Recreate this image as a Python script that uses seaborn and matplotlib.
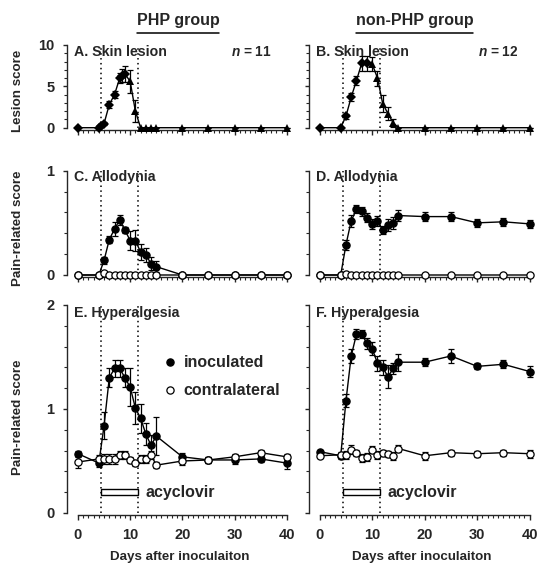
import numpy as np
import pandas as pd
import matplotlib
matplotlib.use("Agg")
import matplotlib.pyplot as plt
from matplotlib.lines import Line2D
from matplotlib.patches import Rectangle
import seaborn as sns

# ---------------- data ----------------
days = [0, 4, 5, 6, 7, 8, 9, 10, 11, 12, 13, 14, 15, 20, 25, 30, 35, 40]

# Skin lesion
php_lesion_days = [0, 4, 4.5, 5, 6, 7, 8, 8.5, 9, 10, 11, 12, 13, 14, 15, 20, 25, 30, 35, 40]
php_lesion = [0, 0, 0.2, 0.5, 2.8, 4.0, 6.0, 6.3, 6.5, 5.6, 2.0, 0, 0, 0, 0, 0, 0, 0, 0, 0]
php_lesion_err = [0, 0, 0, 0.2, 0.4, 0.4, 0.6, 0.8, 1.0, 1.4, 1.3, 0, 0, 0, 0, 0, 0, 0, 0, 0]
nonphp_lesion_days = [0, 4, 5, 6, 7, 8, 9, 10, 11, 12, 13, 14, 15, 20, 25, 30, 35, 40]
nonphp_lesion = [0, 0, 1.4, 3.7, 5.7, 7.8, 7.8, 7.7, 6.0, 2.9, 1.7, 0.6, 0, 0, 0, 0, 0, 0]
nonphp_lesion_err = [0, 0, 0.3, 0.5, 0.5, 0.9, 0.9, 0.9, 0.9, 1.0, 0.8, 0.5, 0, 0, 0, 0, 0, 0]
lesion_last_active_day = 9

# Allodynia
php_allo_inoc = [0, 0, 0.14, 0.34, 0.44, 0.53, 0.43, 0.33, 0.33, 0.22, 0.19, 0.11, 0.08, 0, 0, 0, 0, 0]
php_allo_inoc_err = [0, 0, 0.03, 0.03, 0.07, 0.05, 0.03, 0.09, 0.10, 0.08, 0.07, 0.06, 0.05, 0, 0, 0, 0, 0]
php_allo_contra = [0, 0, 0.02, 0, 0, 0, 0, 0, 0, 0, 0, 0, 0, 0, 0, 0, 0, 0]
php_allo_contra_err = [0] * 18
nonphp_allo_inoc = [0, 0, 0.29, 0.52, 0.63, 0.61, 0.55, 0.49, 0.52, 0.43, 0.48, 0.50, 0.57, 0.56, 0.56, 0.50, 0.51, 0.49]
nonphp_allo_inoc_err = [0, 0, 0.05, 0.06, 0.04, 0.04, 0.04, 0.05, 0.05, 0.04, 0.06, 0.06, 0.05, 0.04, 0.04, 0.04, 0.04, 0.04]
nonphp_allo_contra = [0, 0, 0.01, 0, 0, 0, 0, 0, 0, 0, 0, 0, 0, 0, 0, 0, 0, 0]
nonphp_allo_contra_err = [0] * 18

# Hyperalgesia
php_hyp_inoc = [0.57, 0.48, 0.84, 1.30, 1.39, 1.39, 1.30, 1.21, 1.01, 0.91, 0.76, 0.65, 0.74, 0.54, 0.51, 0.51, 0.52, 0.48]
php_hyp_inoc_err = [0.03, 0.04, 0.13, 0.09, 0.08, 0.08, 0.09, 0.18, 0.15, 0.14, 0.11, 0.10, 0.18, 0.04, 0.03, 0.04, 0.03, 0.06]
php_hyp_contra = [0.49, 0.52, 0.52, 0.52, 0.52, 0.56, 0.56, 0.51, 0.48, 0.52, 0.52, 0.56, 0.46, 0.50, 0.51, 0.54, 0.58, 0.54]
php_hyp_contra_err = [0.06, 0.04, 0.05, 0.05, 0.05, 0.04, 0.04, 0.03, 0.03, 0.04, 0.04, 0.04, 0.03, 0.04, 0.03, 0.03, 0.03, 0.03]
nonphp_hyp_inoc = [0.59, 0.55, 1.08, 1.51, 1.72, 1.72, 1.63, 1.58, 1.44, 1.40, 1.31, 1.39, 1.45, 1.45, 1.51, 1.41, 1.43, 1.36]
nonphp_hyp_inoc_err = [0.02, 0.03, 0.06, 0.07, 0.05, 0.04, 0.05, 0.06, 0.07, 0.07, 0.11, 0.05, 0.08, 0.04, 0.07, 0.03, 0.04, 0.05]
nonphp_hyp_contra = [0.55, 0.56, 0.56, 0.61, 0.58, 0.53, 0.54, 0.61, 0.56, 0.58, 0.57, 0.55, 0.62, 0.55, 0.58, 0.57, 0.58, 0.57]
nonphp_hyp_contra_err = [0.02, 0.03, 0.04, 0.04, 0.03, 0.04, 0.04, 0.03, 0.04, 0.03, 0.03, 0.04, 0.03, 0.04, 0.03, 0.03, 0.03, 0.04]

acyclovir_start, acyclovir_end = 4.5, 11.5
acyclovir_level = (0.17, 0.23)

group_titles = ["PHP group", "non-PHP group"]
n_labels = ["11", "12"]
panel_letters = [["A. Skin lesion", "B. Skin lesion"],
                 ["C. Allodynia", "D. Allodynia"],
                 ["E. Hyperalgesia", "F. Hyperalgesia"]]
ylabels = ["Lesion score", "Pain-related score", "Pain-related score"]
legend_labels = ["inoculated", "contralateral"]
xlabel = "Days after inoculaiton"

# ---------------- style ----------------
sns.set_style("ticks")
plt.rcParams["font.family"] = ["Liberation Sans", "DejaVu Sans"]
plt.rcParams["font.weight"] = "bold"
plt.rcParams["mathtext.fontset"] = "custom"
plt.rcParams["mathtext.it"] = "Liberation Sans:bold:italic"
plt.rcParams["mathtext.rm"] = "Liberation Sans:bold"
plt.rcParams["axes.linewidth"] = 1.0

W, H = 538, 565
fig = plt.figure(figsize=(W / 100, H / 100), dpi=100)

col_left = [67 / W, 309 / W]
col_width = [225 / W, 226 / W]
col_xmin = [-2.1, -2.04]
rows = [(1 - 127.7 / H, 82.7 / H, (0, 10), [0, 5, 10], 1),
        (1 - 275 / H, 104.3 / H, (0, 1), [0, 1], 0.2),
        (1 - 513 / H, 208 / H, (0, 2), [0, 1, 2], 0.2)]

TICK_FS = 10.5
LBL_FS = 9.6
ms_circle = 5.2


def style_axes(ax, ylim, yticks, yminor, show_xlabels, show_ylabels, xmin):
    ax.set_xlim(xmin, 41)
    ax.set_ylim(*ylim)
    for s in ["top", "right"]:
        ax.spines[s].set_visible(False)
    ax.spines["bottom"].set_position(("outward", 1.5))
    ax.spines["bottom"].set_bounds(0, 40)
    ax.spines["left"].set_bounds(*ylim)
    ax.set_xticks([0, 10, 20, 30, 40])
    ax.set_xticks(np.arange(0, 41, 1), minor=True)
    ax.set_yticks(yticks)
    ax.set_yticks(np.arange(ylim[0], ylim[1] + 1e-9, yminor), minor=True)
    ax.tick_params(axis="x", which="major", length=3.5, width=1, direction="out", pad=6,
                   labelsize=TICK_FS, labelbottom=show_xlabels)
    ax.tick_params(axis="x", which="minor", length=1.8, width=0.8, direction="out")
    ax.tick_params(axis="y", which="major", length=3, width=1, direction="out", pad=6,
                   labelsize=TICK_FS, labelleft=show_ylabels)
    ax.tick_params(axis="y", which="minor", length=2, width=0.8, direction="out")
    for lab in ax.get_xticklabels() + ax.get_yticklabels():
        lab.set_fontweight("bold")
    ax.set_xlabel("")
    ax.set_ylabel("")
    ax.grid(False)
    ax.set_facecolor("none")


def draw_pair(ax, inoc, inoc_err, contra, contra_err):
    df = pd.DataFrame({"day": days, "inoc": inoc, "contra": contra})
    ax.errorbar(days, inoc, yerr=inoc_err, fmt="none", ecolor="black", elinewidth=0.9,
                capsize=2.2, capthick=0.9, zorder=3, clip_on=False)
    sns.lineplot(data=df, x="day", y="inoc", ax=ax, color="black", lw=1, marker="o",
                 markersize=ms_circle, markerfacecolor="black", markeredgecolor="black",
                 markeredgewidth=0.9, zorder=4, clip_on=False)
    ax.errorbar(days, contra, yerr=contra_err, fmt="none", ecolor="black", elinewidth=0.9,
                capsize=2.2, capthick=0.9, zorder=5, clip_on=False)
    sns.lineplot(data=df, x="day", y="contra", ax=ax, color="black", lw=1, marker="o",
                 markersize=ms_circle, markerfacecolor="white", markeredgecolor="black",
                 markeredgewidth=0.9, zorder=6, clip_on=False)


def draw_lesion(ax, ldays, vals, errs):
    df = pd.DataFrame({"day": ldays, "score": vals})
    ax.errorbar(ldays, vals, yerr=errs, fmt="none", ecolor="black", elinewidth=0.9,
                capsize=2.2, capthick=0.9, zorder=3, clip_on=False)
    sns.lineplot(data=df, x="day", y="score", ax=ax, color="black", lw=1, zorder=4, clip_on=False)
    act = df[df["day"] <= lesion_last_active_day]
    heal = df[df["day"] > lesion_last_active_day]
    sns.lineplot(data=act, x="day", y="score", ax=ax, color="black", lw=0, marker="D",
                 markersize=5, markeredgewidth=0, zorder=5, clip_on=False)
    sns.lineplot(data=heal, x="day", y="score", ax=ax, color="black", lw=0, marker="^",
                 markersize=5.5, markeredgewidth=0, zorder=5, clip_on=False)


axes = [[None, None] for _ in range(3)]
for r, (bottom, height, ylim, yticks, yminor) in enumerate(rows):
    for c in range(2):
        ax = fig.add_axes([col_left[c], bottom, col_width[c], height])
        axes[r][c] = ax

lesion_sets = [(php_lesion_days, php_lesion, php_lesion_err),
               (nonphp_lesion_days, nonphp_lesion, nonphp_lesion_err)]
allo_sets = [(php_allo_inoc, php_allo_inoc_err, php_allo_contra, php_allo_contra_err),
             (nonphp_allo_inoc, nonphp_allo_inoc_err, nonphp_allo_contra, nonphp_allo_contra_err)]
hyp_sets = [(php_hyp_inoc, php_hyp_inoc_err, php_hyp_contra, php_hyp_contra_err),
            (nonphp_hyp_inoc, nonphp_hyp_inoc_err, nonphp_hyp_contra, nonphp_hyp_contra_err)]

for c in range(2):
    draw_lesion(axes[0][c], *lesion_sets[c])
    draw_pair(axes[1][c], *allo_sets[c])
    draw_pair(axes[2][c], *hyp_sets[c])

for r, (bottom, height, ylim, yticks, yminor) in enumerate(rows):
    for c in range(2):
        ax = axes[r][c]
        style_axes(ax, ylim, yticks, yminor, show_xlabels=(r == 2), show_ylabels=(c == 0),
                   xmin=col_xmin[c])
        for xv in (acyclovir_start, acyclovir_end):
            ax.axvline(xv, ymin=0, ymax=1, color="black", lw=1.1, ls=(0, (1, 2.2)), zorder=1)
        ty = [0.915, 0.937, 0.962][r]
        ax.text(0.032, ty, panel_letters[r][c], transform=ax.transAxes, fontsize=10.2,
                fontweight="bold", ha="left", va="center", zorder=10)
        if c == 0:
            ax.set_ylabel(ylabels[r], fontsize=LBL_FS, fontweight="bold")
            ax.yaxis.set_label_coords(-0.19, [0.45, 0.45, 0.46][r])
        if r == 2:
            ax.set_xlabel(xlabel, fontsize=LBL_FS, fontweight="bold", labelpad=6.5)
            # acyclovir bar
            ax.add_patch(Rectangle((acyclovir_start, acyclovir_level[0]),
                                   acyclovir_end - acyclovir_start,
                                   acyclovir_level[1] - acyclovir_level[0],
                                   facecolor="white", edgecolor="black", lw=1, zorder=6))
            ax.text(acyclovir_end + 1.4, np.mean(acyclovir_level), "acyclovir", fontsize=11.5,
                    fontweight="bold", ha="left", va="center")

# n labels
axes[0][0].text(0.91, 0.915, r"$n$ = " + n_labels[0], transform=axes[0][0].transAxes,
                fontsize=9.8, ha="right", va="center")
axes[0][1].text(0.925, 0.915, r"$n$ = " + n_labels[1], transform=axes[0][1].transAxes,
                fontsize=9.8, ha="right", va="center")

# legend
handles = [Line2D([], [], ls="none", marker="o", markersize=ms_circle, markerfacecolor="black",
                  markeredgecolor="black", markeredgewidth=0.9),
           Line2D([], [], ls="none", marker="o", markersize=ms_circle, markerfacecolor="white",
                  markeredgecolor="black", markeredgewidth=0.9)]
leg = axes[2][0].legend(handles, legend_labels, loc="upper left", bbox_to_anchor=(0.43, 0.758),
                        frameon=False, fontsize=11.5, handlelength=0.8, handletextpad=0.45,
                        labelspacing=0.8, borderpad=0, borderaxespad=0)
for t in leg.get_texts():
    t.set_fontweight("bold")

# group titles with underline
fig.canvas.draw()
renderer = fig.canvas.get_renderer()
for c, xc in enumerate([178 / W, 414.5 / W]):
    t = fig.text(xc, 1 - 21 / H, group_titles[c], fontsize=11.5, fontweight="bold",
                 ha="center", va="center")
    bb = t.get_window_extent(renderer=renderer).transformed(fig.transFigure.inverted())
    yline = 1 - 32.5 / H
    fig.add_artist(Line2D([bb.x0, bb.x1], [yline, yline], color="black", lw=1.1,
                          transform=fig.transFigure))

fig.savefig("out.png", dpi=100)
